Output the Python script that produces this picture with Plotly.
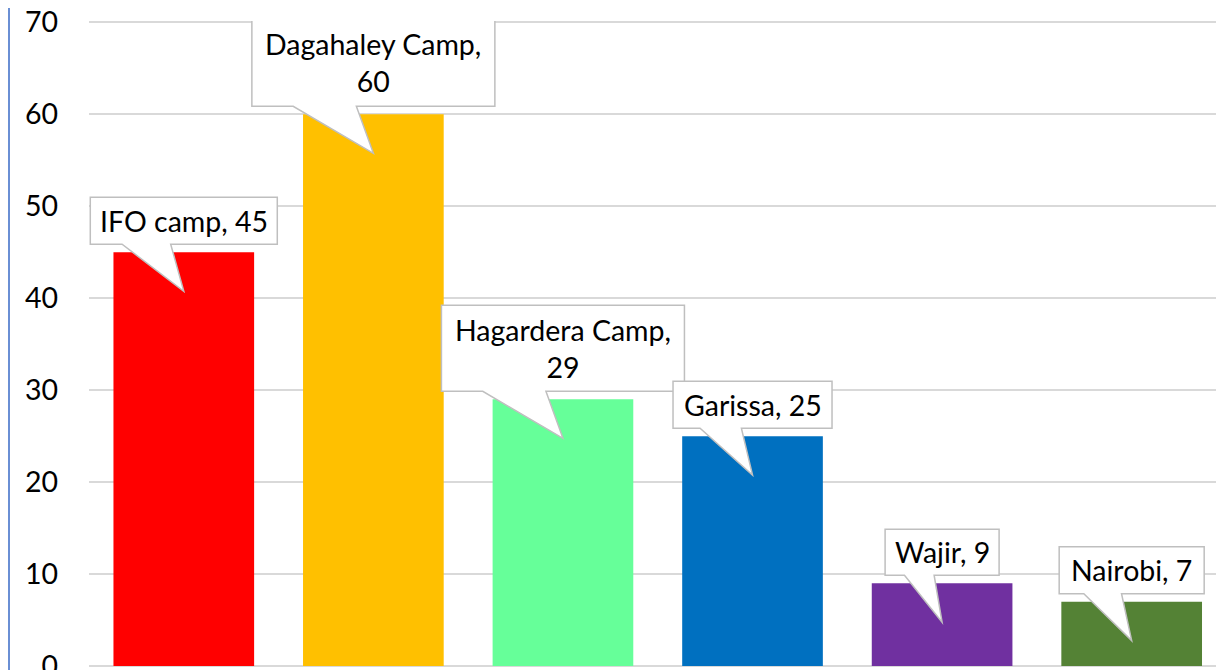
import plotly.graph_objects as go

# ---- data ----
categories = ["IFO camp", "Dagahaley Camp", "Hagardera Camp", "Garissa", "Wajir", "Nairobi"]
values = [45, 60, 29, 25, 9, 7]
label_texts = ["IFO camp, 45", "Dagahaley Camp,<br>60", "Hagardera Camp,<br>29",
               "Garissa, 25", "Wajir, 9", "Nairobi, 7"]
y_ticks = [0, 10, 20, 30, 40, 50, 60, 70]

# ---- style ----
bar_colors = ["#FF0000", "#FFC000", "#66FF99", "#0070C0", "#7030A0", "#548235"]
box_w = [187, 243, 243, 159, 114, 145]   # callout box sizes in px
box_h = [47, 87, 86, 47, 46, 47]
box_gap = 8      # px between bar top and box bottom
tip_depth = 39   # px below bar top where the pointer ends
FONT = "Lato"
FS = 28.5

PLOT_W = 1216 - 81

fig = go.Figure()
fig.add_trace(go.Bar(
    x=categories, y=values, marker=dict(color=bar_colors, line=dict(width=0)),
    width=0.742, hoverinfo="skip"))

shapes = []
annotations = []
for cat, v, txt, w, h in zip(categories, values, label_texts, box_w, box_h):
    b = box_gap
    t = b + h
    xl, xr = -w / 2, w / 2
    w1, w2 = -0.33 * w, -0.07 * w
    path = (f"M {xl},{b} L {xl},{t} L {xr},{t} L {xr},{b} L {w2},{b} "
            f"L 0,{-tip_depth} L {w1},{b} Z")
    shapes.append(dict(type="path", xref="x", yref="y", xsizemode="pixel", ysizemode="pixel",
                       xanchor=cat, yanchor=v, path=path, fillcolor="white",
                       line=dict(color="#BFBFBF", width=1.5), layer="above"))
    annotations.append(dict(x=cat, y=v, xref="x", yref="y", text=txt, showarrow=False,
                            yshift=b + h / 2, xanchor="center", yanchor="middle",
                            align="center", font=dict(family=FONT, size=FS, color="black")))

# left chart border line
shapes.append(dict(type="line", xref="paper", yref="paper", x0=-80 / PLOT_W, x1=-80 / PLOT_W,
                   y0=-0.02, y1=1.05, line=dict(color="#6A8FD4", width=2), layer="above"))

fig.update_layout(
    width=1216, height=662,
    margin=dict(l=81, r=0, t=13, b=4, autoexpand=False),
    paper_bgcolor="white", plot_bgcolor="white",
    showlegend=False, bargap=0.258,
    shapes=shapes, annotations=annotations,
    font=dict(family=FONT, size=FS, color="black"),
    xaxis=dict(range=[-0.5, 5.487], showticklabels=False, showgrid=False, zeroline=False,
               showline=False, ticks="", fixedrange=True),
    yaxis=dict(range=[0, 70.15], tickvals=y_ticks, ticktext=[str(t) for t in y_ticks],
               showgrid=True, gridcolor="#D9D9D9", gridwidth=1.5, zeroline=True,
               zerolinecolor="#D9D9D9", zerolinewidth=1.5, showline=False, ticks="",
               ticklabelstandoff=30, ticklabeloverflow="allow", automargin=False,
               tickfont=dict(family=FONT, size=FS, color="black")),
)

fig.write_html("out.html")
